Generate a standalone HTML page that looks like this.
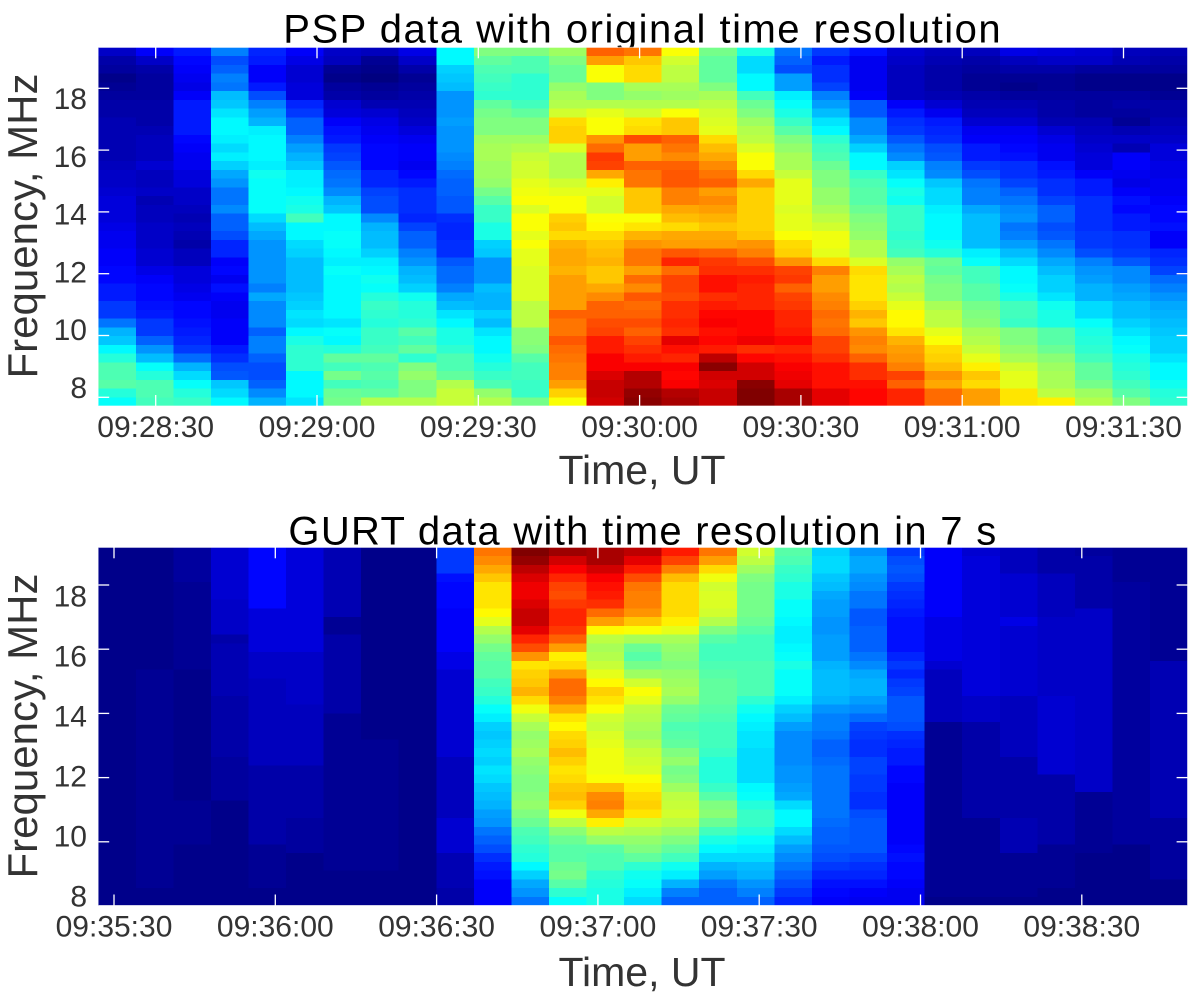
<!DOCTYPE html>
<html lang="en">
<head>
<meta charset="utf-8">
<title>PSP and GURT dynamic spectra</title>
<style>
html,body{margin:0;padding:0;background:#fff;width:1200px;height:992px;overflow:hidden}
svg{display:block;font-family:"Liberation Sans",Arial,sans-serif}
.tick-label{font-size:30px;fill:#333}
.axis-title{font-size:41px;fill:#333}
.y-title{font-size:42px}
.chart-title{font-size:40px;fill:#000;text-anchor:middle}
</style>
</head>
<body>
<svg id="figure" width="1200" height="992" viewBox="0 0 1200 992" xmlns="http://www.w3.org/2000/svg">
  <rect width="1200" height="992" fill="#fff"/>
  <text class="chart-title" x="642.7" y="42.5" style="letter-spacing:1.5px">PSP data with original time resolution</text>
  <text class="chart-title" x="643" y="544.5" style="letter-spacing:1.3px">GURT data with time resolution in 7 s</text>
  <text class="axis-title y-title" transform="translate(37,226) rotate(-90)" text-anchor="middle">Frequency, MHz</text>
  <text class="axis-title y-title" transform="translate(37,726) rotate(-90)" text-anchor="middle">Frequency, MHz</text>
  <text class="axis-title" x="642" y="484" text-anchor="middle">Time, UT</text>
  <text class="axis-title" x="642" y="986" text-anchor="middle">Time, UT</text>
  <g id="psp-panel"></g>
  <g id="gurt-panel"></g>
</svg>
<script>
// Intensity values on a 0-100 colour scale. Each inner array is one time column, top row (high frequency) first.
const pspValues = [
[7,4,3,1,2,3,4,4,5,5,5,5,5,6,7,7,8,9,9,9,10,11,11,12,12,13,13,15,15,18,18,24,30,32,37,41,45,45,46,41,38],
[12,7,4,3,3,3,4,4,4,5,6,6,6,8,6,6,7,5,6,6,7,7,7,8,8,10,12,13,13,14,15,18,18,22,27,31,38,41,45,45,44],
[15,13,12,11,10,12,15,15,15,15,13,12,11,11,9,9,7,7,6,5,6,5,4,6,6,9,9,10,11,13,13,14,15,16,18,23,30,34,38,41,43],
[25,20,22,25,24,31,32,35,37,37,36,34,36,33,29,27,24,24,26,22,22,20,16,16,12,13,11,14,12,11,11,12,12,12,15,17,20,21,32,34,37],
[16,15,12,12,15,20,25,28,30,36,37,37,37,36,39,38,38,38,38,34,31,29,27,27,27,27,27,25,29,26,26,26,22,25,25,22,20,20,22,26,30],
[12,10,8,8,9,9,16,18,22,22,25,28,30,32,36,36,37,39,40,44,37,37,34,33,31,31,31,31,32,33,35,34,37,40,42,42,42,37,37,37,35],
[7,6,2,1,3,4,8,9,12,14,15,18,19,21,23,24,26,30,32,37,37,38,38,37,36,38,37,37,37,37,37,35,38,37,41,47,44,49,44,48,49],
[6,2,1,0,2,3,5,8,10,11,12,13,13,13,16,16,19,20,20,26,30,31,31,33,36,37,39,38,41,43,42,41,43,43,44,47,45,46,45,47,55],
[10,7,4,2,3,4,5,6,7,9,11,12,12,11,13,15,17,17,17,16,19,22,22,25,27,30,31,33,39,41,41,42,46,44,47,42,50,52,50,50,55],
[37,37,33,32,31,27,27,27,28,27,27,27,26,25,23,22,22,21,21,17,16,16,17,17,21,23,23,25,29,31,35,37,40,40,42,45,45,47,55,57,57],
[50,47,45,44,43,42,47,49,50,50,53,54,54,53,53,52,49,46,43,43,40,40,33,32,27,27,27,31,30,30,33,31,35,37,37,39,41,43,45,52,55],
[50,45,45,42,42,42,44,47,50,50,53,55,57,58,58,60,61,62,59,62,62,60,62,60,60,59,59,59,59,56,56,56,51,51,50,46,44,44,43,43,49],
[53,50,48,48,52,54,55,58,66,67,67,59,55,55,55,58,60,62,62,67,68,66,70,71,71,70,72,72,72,72,78,76,76,79,77,76,75,75,72,67,62],
[78,72,62,62,50,50,55,60,62,62,73,77,82,81,71,64,60,58,58,62,63,66,68,69,70,68,68,71,74,78,78,80,81,85,85,88,88,91,93,93,92],
[76,68,66,66,54,52,55,58,65,66,80,72,72,78,76,76,68,68,68,62,65,70,73,76,76,72,77,74,79,77,78,80,78,81,83,85,88,95,95,98,99],
[62,58,56,56,54,53,55,62,68,68,78,76,74,78,79,79,75,75,71,69,66,71,72,79,84,77,81,81,80,83,83,84,83,90,86,84,88,87,88,95,96],
[49,47,47,47,50,54,56,58,59,60,66,69,71,74,76,78,72,74,72,70,68,71,72,78,82,83,86,86,83,85,87,88,86,87,85,94,99,92,91,93,93],
[40,34,34,37,37,44,48,50,53,55,56,59,62,62,66,71,67,67,67,67,67,68,73,75,80,83,85,84,84,84,87,87,87,89,83,87,92,92,99,100,100],
[24,22,20,28,28,36,38,40,43,46,50,52,54,54,57,60,60,60,59,60,60,62,66,67,73,81,82,78,81,82,84,84,85,87,84,86,88,89,90,96,96],
[18,15,17,17,19,25,28,31,35,37,42,44,45,48,50,50,52,52,54,56,58,61,61,60,66,75,72,72,74,75,77,76,77,81,81,83,86,86,86,90,90],
[14,11,11,11,11,12,21,21,26,26,29,33,37,37,43,45,46,46,48,50,51,52,55,55,59,66,65,65,65,67,70,68,73,75,74,78,83,83,86,87,87],
[8,7,6,6,6,6,12,15,17,18,21,24,26,33,35,38,40,39,43,43,43,42,43,44,52,54,56,55,57,60,63,63,65,70,72,73,75,81,78,84,84],
[6,5,4,4,4,5,8,11,15,16,17,20,21,25,26,32,34,34,36,37,37,37,39,41,48,47,49,50,50,54,56,56,60,62,66,67,69,73,71,77,77],
[6,4,3,2,2,4,5,6,8,11,12,15,15,18,20,24,25,25,29,31,31,31,31,36,38,44,44,46,46,49,50,51,54,55,57,60,64,68,66,72,72],
[10,6,4,2,1,3,5,6,8,11,12,13,14,17,17,19,22,24,26,27,24,25,28,31,34,37,37,38,40,44,44,43,50,50,52,54,58,60,60,65,65],
[9,7,4,2,2,3,4,4,5,8,10,11,11,14,15,17,17,19,22,22,20,21,24,26,29,31,33,33,35,39,40,40,46,46,48,51,53,54,54,56,64],
[8,7,3,1,1,3,3,3,5,6,7,8,9,9,12,15,15,17,17,17,17,18,18,20,25,27,28,30,30,34,34,38,40,41,42,44,47,47,49,53,55],
[6,5,3,1,1,3,4,3,2,5,7,5,12,12,11,10,12,14,13,15,15,17,17,18,21,26,26,28,29,31,31,33,35,37,38,40,41,42,44,46,50],
[5,4,3,1,1,2,4,4,5,6,7,9,9,10,10,11,11,12,13,13,14,12,12,16,17,19,23,25,27,29,30,31,32,33,33,35,37,37,39,41,42]
];
const gurtValues = [
[1,1,1,1,1,1,1,1,1,1,1,1,1,1,1,1,1,1,1,1,1,1,1,1,1,1,1,1,1,1,1,1,1,1,1,1,1,1,1,1,1],
[1,1,1,1,1,1,1,1,1,1,1,1,1,1,2,2,2,2,2,2,2,2,2,2,2,2,2,2,2,2,2,2,2,2,2,2,2,2,2,1,1],
[3,3,3,3,2,2,2,2,2,2,2,2,2,2,1,1,1,1,1,1,1,1,1,1,1,1,1,1,1,2,2,2,2,2,1,1,1,1,1,1,1],
[8,8,8,8,8,8,7,7,7,7,4,5,5,5,5,5,5,4,4,4,4,4,4,4,3,3,3,3,3,1,1,1,1,1,1,1,1,1,1,1,1],
[13,13,13,13,13,13,13,9,9,9,9,9,7,7,7,6,6,6,6,6,6,6,6,6,6,4,4,4,4,4,4,4,4,4,2,2,2,2,2,1,1],
[9,9,9,9,9,9,9,9,9,9,9,9,7,7,7,7,7,7,6,6,6,6,6,6,6,4,4,4,4,4,4,3,3,3,3,1,1,1,1,1,1],
[5,5,5,5,5,5,5,5,2,2,4,4,4,4,4,4,4,4,4,2,2,2,2,2,2,2,2,2,2,2,2,2,2,2,2,2,2,1,1,1,1],
[1,1,1,1,1,1,1,1,1,1,1,1,1,1,1,1,1,1,1,1,1,1,2,2,2,2,2,2,2,2,2,2,2,2,2,2,2,1,1,1,1],
[1,1,1,1,1,1,1,1,1,1,1,1,1,1,1,1,1,1,1,1,1,1,1,1,1,1,1,1,1,1,1,1,1,1,1,1,1,1,1,1,1],
[18,18,18,14,13,13,13,12,12,12,12,12,10,10,8,8,8,8,8,8,8,8,8,8,6,6,6,6,6,6,6,8,8,8,8,5,5,5,5,4,4],
[76,74,71,68,65,65,65,63,60,55,52,49,47,46,46,44,43,41,38,36,33,32,33,34,33,35,34,32,31,30,28,27,24,22,20,17,15,14,12,12,12],
[100,98,94,91,89,89,91,93,93,90,84,80,73,65,67,68,70,66,61,57,54,52,53,54,52,51,50,50,51,52,50,48,45,44,42,41,37,33,29,27,24],
[97,92,88,84,81,80,82,84,84,82,78,72,64,66,72,77,77,75,70,65,63,66,67,69,67,65,66,68,69,67,61,56,51,48,46,46,48,49,46,42,38],
[96,96,92,88,86,85,83,77,72,63,56,54,55,57,60,63,67,65,62,58,57,59,60,61,61,61,62,69,74,75,71,64,56,52,46,45,45,42,41,40,40],
[94,90,85,80,76,75,75,73,68,62,54,48,46,49,53,58,62,60,56,55,54,53,55,57,58,59,62,64,66,67,65,58,55,52,50,47,42,39,38,36,34],
[85,81,75,69,66,66,66,66,64,60,54,52,51,50,52,53,54,52,48,47,45,46,47,50,52,49,50,53,56,57,58,56,53,50,47,44,39,36,30,25,22],
[76,72,66,61,58,59,59,58,55,50,46,44,44,45,46,47,47,47,46,45,44,44,44,43,41,41,41,43,46,50,51,48,44,40,37,34,30,28,24,22,22],
[58,56,53,50,49,49,49,49,48,46,44,44,44,45,45,45,45,42,39,37,36,35,35,34,34,34,34,37,38,41,43,43,41,38,36,34,31,30,27,25,22],
[46,45,43,42,40,40,38,38,37,36,36,37,38,40,38,38,38,36,33,31,28,26,26,26,26,27,27,28,29,34,37,37,34,31,28,26,24,22,20,18,16],
[33,34,34,32,31,29,28,28,27,27,28,28,28,30,31,31,31,30,27,25,25,24,22,22,23,24,24,24,24,24,24,23,22,22,21,20,18,16,14,13,12],
[27,29,29,27,26,24,24,21,21,22,22,22,24,26,29,30,30,28,26,23,19,18,17,17,19,19,18,18,17,17,20,21,21,21,21,19,17,16,14,12,11],
[18,20,21,20,18,17,16,15,14,14,14,14,16,18,16,18,19,21,21,21,20,17,16,15,15,13,13,12,12,12,12,12,12,12,13,14,13,13,12,11,11],
[12,12,12,12,12,12,12,12,10,10,10,10,10,8,6,6,6,6,6,6,2,2,2,2,2,2,2,2,2,2,2,2,2,2,2,2,2,2,2,2,1],
[8,9,9,9,9,9,9,9,9,9,9,9,9,9,9,9,9,7,7,7,4,4,4,4,4,4,4,4,4,4,4,2,2,2,2,2,2,2,2,2,1],
[6,6,6,8,8,8,8,8,10,8,8,8,8,8,8,8,8,6,6,6,6,6,6,6,4,4,4,4,4,4,4,5,5,5,5,2,2,2,2,2,1],
[4,4,4,6,6,6,6,6,7,7,7,7,7,7,7,7,7,8,8,8,8,8,8,8,8,8,4,4,4,4,4,4,4,4,2,2,2,2,2,1,1],
[3,4,4,4,4,4,4,7,7,7,7,7,7,7,7,7,7,7,7,7,7,7,7,7,7,7,7,7,2,2,2,2,2,2,2,1,1,1,1,1,1],
[2,2,2,2,3,3,3,3,3,3,3,3,3,3,3,3,3,3,3,3,3,3,3,3,3,3,3,3,3,3,3,3,3,3,1,1,1,1,1,1,1],
[2,2,2,2,2,2,2,2,2,2,2,2,2,5,5,5,5,5,5,5,5,5,5,5,5,5,5,5,5,5,5,3,3,3,3,3,3,3,1,1,1]
];
const pspTimeLabels = ["09:28:30","09:29:00","09:29:30","09:30:00","09:30:30","09:31:00","09:31:30"];
const gurtTimeLabels = ["09:35:30","09:36:00","09:36:30","09:37:00","09:37:30","09:38:00","09:38:30"];
const pspTickSeconds = [0,30,60,90,120,150,180];
const gurtTickSeconds = [0,30,60,90,120,150,180];
const freqTicks = [18,16,14,12,10,8];

const SVG_NS = "http://www.w3.org/2000/svg";

function clamp01(v){ return Math.max(0, Math.min(1, v)); }
function jet(value){
  const v = value / 100;
  const r = clamp01(Math.min(4*v-1.5, -4*v+4.5));
  const g = clamp01(Math.min(4*v-0.5, -4*v+3.5));
  const b = clamp01(Math.min(4*v+0.5, -4*v+2.5));
  return "rgb(" + Math.round(r*255) + "," + Math.round(g*255) + "," + Math.round(b*255) + ")";
}
function linear(d0, d1, r0, r1){
  return function(v){ return r0 + (v - d0) * (r1 - r0) / (d1 - d0); };
}

function drawPanel(cfg){
  const root = document.getElementById(cfg.id);
  const values = cfg.values;
  const nCols = values.length;
  const nRows = values[0].length;
  const xCol = linear(0, nCols, cfg.left, cfg.right);
  const yRow = linear(0, nRows, cfg.top, cfg.bottom);
  const xTime = linear(0, 30, cfg.xTick0, cfg.xTick0 + cfg.xTickStep);
  const yFreq = linear(18, 8, cfg.y18, cfg.y8);
  const yLabel = linear(18, 8, cfg.labelY18, cfg.labelY8);

  for (let c = 0; c < nCols; c++) {
    for (let r = 0; r < values[c].length; r++) {
      const cell = document.createElementNS(SVG_NS, "rect");
      
      
      cell.setAttribute("x", xCol(c));
      cell.setAttribute("y", yRow(r));
      cell.setAttribute("width", xCol(c+1) - xCol(c));
      cell.setAttribute("height", yRow(r+1) - yRow(r));
      cell.setAttribute("fill", jet(values[c][r]));
      cell.setAttribute("shape-rendering", "crispEdges");
      root.appendChild(cell);
    }
  }

  const frame = document.createElementNS(SVG_NS, "rect");
  
  
  frame.setAttribute("x", cfg.left);
  frame.setAttribute("y", cfg.top);
  frame.setAttribute("width", cfg.right - cfg.left);
  frame.setAttribute("height", cfg.bottom - cfg.top);
  frame.setAttribute("fill", "none");
  frame.setAttribute("stroke", "#fff");
  frame.setAttribute("stroke-opacity", "0.65");
  frame.setAttribute("stroke-width", "1");
  root.appendChild(frame);

  function tick(x1, y1, x2, y2){
    const t = document.createElementNS(SVG_NS, "line");
    
    
    t.setAttribute("x1", x1);
    t.setAttribute("y1", y1);
    t.setAttribute("x2", x2);
    t.setAttribute("y2", y2);
    t.setAttribute("stroke", "#fff");
    t.setAttribute("stroke-width", "1.3");
    root.appendChild(t);
  }

  cfg.tickSeconds.forEach(function(sec, i){
    const x = xTime(sec);
    tick(x, cfg.top, x, cfg.top + 11);
    tick(x, cfg.bottom, x, cfg.bottom - 11);
    const label = document.createElementNS(SVG_NS, "text");
    
    
    label.setAttribute("class", "tick-label");
    label.setAttribute("x", x);
    label.setAttribute("y", cfg.xLabelBaseline);
    label.setAttribute("text-anchor", "middle");
    label.textContent = cfg.timeLabels[i];
    root.appendChild(label);
  });

  freqTicks.forEach(function(f){
    const y = yFreq(f);
    if (y < cfg.bottom - 1) {
      tick(cfg.left, y, cfg.left + 11, y);
      tick(cfg.right, y, cfg.right - 11, y);
    }
    const label = document.createElementNS(SVG_NS, "text");
    
    
    label.setAttribute("class", "tick-label");
    label.setAttribute("x", 87);
    label.setAttribute("y", yLabel(f) + 10);
    label.setAttribute("text-anchor", "end");
    label.textContent = String(f);
    root.appendChild(label);
  });
}

drawPanel({
  id: "psp-panel", values: pspValues, timeLabels: pspTimeLabels, tickSeconds: pspTickSeconds,
  left: 98.2, right: 1187.6, top: 47.3, bottom: 406,
  xTick0: 155.7, xTickStep: 161.3, y18: 88.3, y8: 397.3,
  labelY18: 99, labelY8: 388, xLabelBaseline: 437
});
drawPanel({
  id: "gurt-panel", values: gurtValues, timeLabels: gurtTimeLabels, tickSeconds: gurtTickSeconds,
  left: 98.2, right: 1187.6, top: 547.3, bottom: 905.5,
  xTick0: 114, xTickStep: 161.3, y18: 585, y8: 906,
  labelY18: 596.7, labelY8: 896.7, xLabelBaseline: 936.5
});
</script>
</body>
</html>
